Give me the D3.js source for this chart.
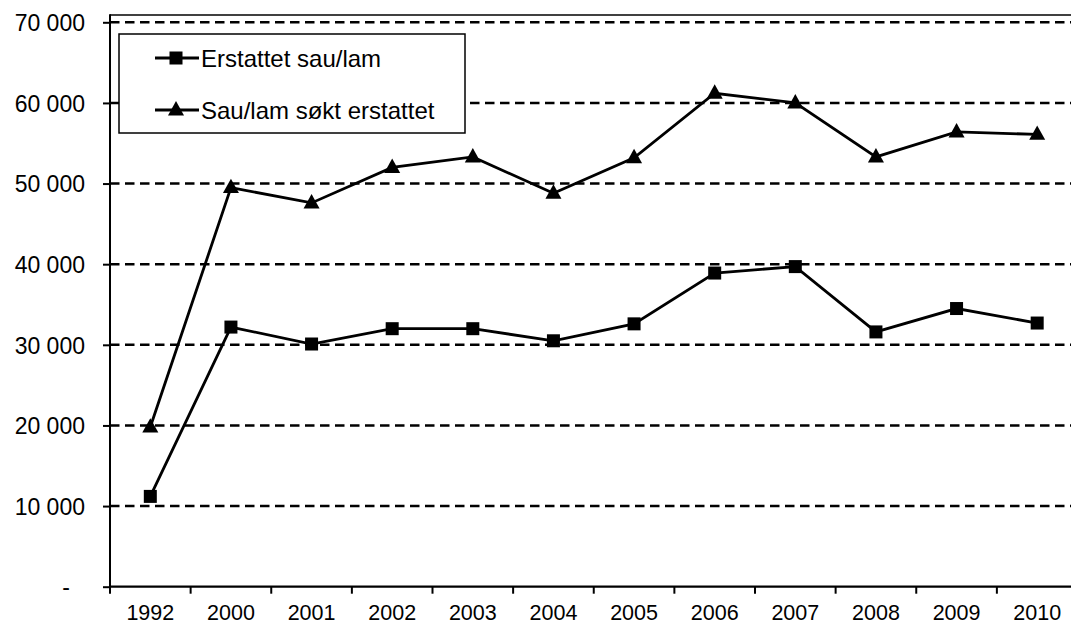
<!DOCTYPE html>
<html>
<head>
<meta charset="utf-8">
<script src="https://cdn.jsdelivr.net/npm/d3@7"></script>
<style>
html,body{margin:0;padding:0;background:#fff;}
svg{display:block;}
text{font-family:"Liberation Sans",Arial,sans-serif;fill:#000;}
</style>
</head>
<body>
<svg id="chart" width="1071" height="625"></svg>
<script>
const categories = ["1992","2000","2001","2002","2003","2004","2005","2006","2007","2008","2009","2010"];
const erstattet = [11200,32200,30100,32000,32000,30500,32600,38900,39700,31600,34500,32700];
const soktErstattet = [19800,49500,47600,52000,53300,48800,53200,61200,60000,53300,56400,56100];
const yTicks = [0,10000,20000,30000,40000,50000,60000,70000];
const seriesNames = ["Erstattet sau/lam","Sau/lam søkt erstattet"];

(function(){
const svg = d3.select("#chart");
const pLeft = 110, pRight = 1077.5, pTop = 15, yTop = 22.3, pBottom = 586.7;

const x = d3.scaleBand().domain(categories).range([pLeft, pRight]).padding(0);
const y = d3.scaleLinear().domain([0, 70000]).range([pBottom, yTop]);

const fmt = v => v === 0 ? "-" : d3.format(",")(v).replace(/,/g, " ");

// gridlines
svg.append("g").selectAll("line").data(yTicks.filter(d => d > 0)).join("line")
  .attr("x1", pLeft).attr("x2", pRight)
  .attr("y1", d => y(d)).attr("y2", d => y(d))
  .attr("stroke", "#000").attr("stroke-width", 2.6)
  .attr("stroke-dasharray", "9.5,5.5");

// plot area top border
svg.append("line").attr("x1", pLeft).attr("x2", pRight).attr("y1", pTop).attr("y2", pTop)
  .attr("stroke", "#000").attr("stroke-width", 1.5);

// y axis
const yAxis = svg.append("g").attr("transform", `translate(${pLeft},0)`)
  .call(d3.axisLeft(y).tickValues(yTicks).tickFormat(fmt).tickSize(7).tickPadding(0));
yAxis.select(".domain").remove();
yAxis.selectAll(".tick line").attr("stroke", "#000").attr("stroke-width", 2);
yAxis.selectAll(".tick text")
  .attr("font-size", 23).attr("font-family", "Liberation Sans, Arial, sans-serif")
  .attr("text-anchor", "end").attr("dy", "0.36em")
  .attr("x", d => (d === 0 ? -40 : -25));
svg.append("line").attr("x1", pLeft).attr("x2", pLeft).attr("y1", pTop - 0.75).attr("y2", pBottom + 1)
  .attr("stroke", "#000").attr("stroke-width", 2);

// x axis
const xAxis = svg.append("g").attr("transform", `translate(0,${pBottom})`)
  .call(d3.axisBottom(x).tickSize(0).tickPadding(0));
xAxis.select(".domain").remove();
xAxis.selectAll(".tick text")
  .attr("font-size", 21.5).attr("font-family", "Liberation Sans, Arial, sans-serif")
  .attr("y", 33).attr("dy", 0).attr("x", 0);
svg.append("line").attr("x1", pLeft - 1).attr("x2", pRight).attr("y1", pBottom).attr("y2", pBottom)
  .attr("stroke", "#000").attr("stroke-width", 2.2);
svg.append("g").selectAll("line").data(categories).join("line")
  .attr("x1", d => x(d)).attr("x2", d => x(d))
  .attr("y1", pBottom).attr("y2", pBottom + 7)
  .attr("stroke", "#000").attr("stroke-width", 2);

const cx = d => x(d) + x.bandwidth() / 2;
const line = d3.line().x((d, i) => cx(categories[i])).y(d => y(d));

function triPath(s){ const h = s * 0.9; return `M0,${-h*0.62}L${s/2},${h*0.38}L${-s/2},${h*0.38}Z`; }

// series lines
[erstattet, soktErstattet].forEach(vals => {
  svg.append("path").datum(vals).attr("d", line)
    .attr("fill", "none").attr("stroke", "#000").attr("stroke-width", 2.8)
    .attr("stroke-linejoin", "miter");
});
// markers
svg.append("g").selectAll("rect").data(erstattet).join("rect")
  .attr("x", (d, i) => cx(categories[i]) - 6.5).attr("y", d => y(d) - 6.5)
  .attr("width", 13).attr("height", 13).attr("fill", "#000");
svg.append("g").selectAll("path").data(soktErstattet).join("path")
  .attr("transform", (d, i) => `translate(${cx(categories[i])},${y(d)})`)
  .attr("d", triPath(16)).attr("fill", "#000");

// legend
const lg = svg.append("g");
lg.append("rect").attr("x", 119).attr("y", 34).attr("width", 346).attr("height", 99)
  .attr("fill", "#fff").attr("stroke", "#000").attr("stroke-width", 1.5);
const rows = [58, 110];
rows.forEach((ry, i) => {
  lg.append("line").attr("x1", 155).attr("x2", 199).attr("y1", ry).attr("y2", ry)
    .attr("stroke", "#000").attr("stroke-width", 2.8);
  if (i === 0) lg.append("rect").attr("x", 169.5).attr("y", ry - 6.5).attr("width", 13).attr("height", 13).attr("fill", "#000");
  else lg.append("path").attr("transform", `translate(176,${ry})`).attr("d", triPath(16)).attr("fill", "#000");
  lg.append("text").attr("x", 201).attr("y", ry)
    .attr("dy", "0.36em").attr("font-size", 24).text(seriesNames[i]);
});
})();
</script>
</body>
</html>
